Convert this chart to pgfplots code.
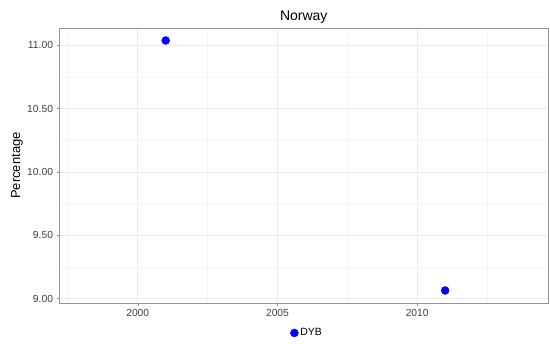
\documentclass[border=0pt]{standalone}
\usepackage{pgfplots}
\pgfplotsset{compat=1.18}
\usepackage{fontspec}
\setmainfont{Liberation Sans}
\definecolor{gridmaj}{RGB}{235,235,235}
\definecolor{gridmin}{RGB}{244,244,244}
\definecolor{bord}{RGB}{150,150,150}
\definecolor{ticktxt}{RGB}{64,64,64}
\begin{document}
\begin{tikzpicture}
\path[use as bounding box] (-59.5bp,-41bp) rectangle (490.5bp,303bp);
\begin{axis}[
  scale only axis,
  width=488.5bp, height=275bp,
  xmin=1997.2, xmax=2014.68,
  ymin=8.9664, ymax=11.1356,
  xtick={2000,2005,2010},
  ytick={9,9.5,10,10.5,11},
  minor xtick={1997.5,2002.5,2007.5,2012.5},
  minor ytick={9.25,9.75,10.25,10.75},
  xticklabel style={/pgf/number format/.cd,1000 sep={},assume math mode=true},
  yticklabel style={/pgf/number format/.cd,fixed,fixed zerofill,precision=2,assume math mode=true},
  ticklabel style={font=\fontsize{10.3bp}{12bp}\selectfont, text=ticktxt},
  tick align=outside,
  major tick length=3bp,
  minor tick length=0pt,
  tick style={bord, line width=0.5pt},
  axis line style={bord, line width=0.8pt},
  grid=both,
  major grid style={gridmaj, line width=0.6pt},
  minor grid style={gridmin, line width=0.4pt},
  xtick pos=bottom, ytick pos=left,
  every axis title shift=0pt,
  title={Norway},
  title style={font=\fontsize{14bp}{16bp}\selectfont, at={(axis description cs:0.5,1.04)}, anchor=center},
  ylabel={Percentage},
  ylabel style={font=\fontsize{13bp}{15bp}\selectfont, at={(axis description cs:-0.087,0.5)}, anchor=center},
  legend style={at={(axis description cs:0.507,-0.109)}, anchor=center, draw=none, fill=none,
    font=\fontsize{10.5bp}{12bp}\selectfont, legend columns=1},
  legend cell align=left,
  clip=false,
]
\addplot[only marks, mark=*, mark size=4bp, color=blue, fill=blue] coordinates {
  (2001, 11.037)
  (2011, 9.065)
};
\addlegendentry{DYB}
\end{axis}
\end{tikzpicture}
\end{document}
